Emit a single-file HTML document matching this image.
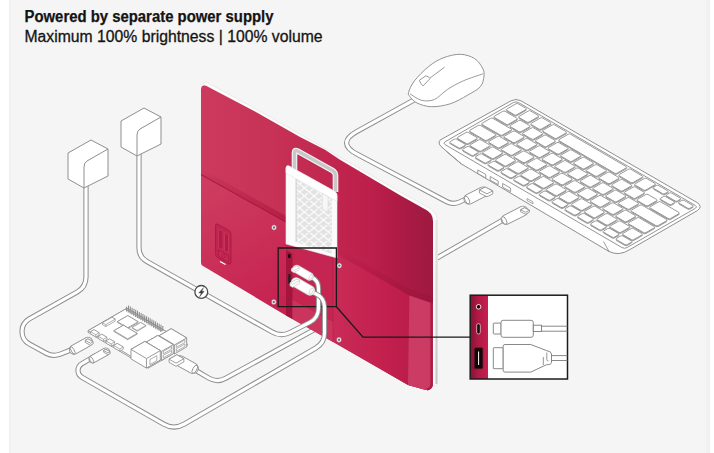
<!DOCTYPE html>
<html><head><meta charset="utf-8">
<style>
html,body{margin:0;padding:0;background:#fff;}
body{width:714px;height:453px;overflow:hidden;position:relative;}
svg{position:absolute;left:0;top:0;}
</style></head>
<body>
<svg width="714" height="453" viewBox="0 0 714 453">
<defs>
<linearGradient id="redg" x1="201" y1="0" x2="433" y2="0" gradientUnits="userSpaceOnUse">
<stop offset="0" stop-color="#cc3a5d"/>
<stop offset="0.276" stop-color="#c73356"/>
<stop offset="0.728" stop-color="#bd1f4b"/>
<stop offset="0.858" stop-color="#ad1b45"/>
<stop offset="1" stop-color="#9e1940"/>
</linearGradient>
<linearGradient id="lhg" x1="201" y1="190" x2="280" y2="310" gradientUnits="userSpaceOnUse"><stop offset="0" stop-color="#cd3d60"/><stop offset="1" stop-color="#c6214f"/></linearGradient>
<linearGradient id="rhg" x1="333" y1="0" x2="433" y2="0" gradientUnits="userSpaceOnUse"><stop offset="0" stop-color="#c92b56"/><stop offset="0.5" stop-color="#c3204e"/><stop offset="1" stop-color="#b31a47"/></linearGradient>
<linearGradient id="shg" x1="0" y1="0" x2="0" y2="1"><stop offset="0" stop-color="#a8123c" stop-opacity="0"/><stop offset="1" stop-color="#a8123c" stop-opacity="0.6"/></linearGradient>
<linearGradient id="shg2" x1="0" y1="0" x2="0" y2="1"><stop offset="0" stop-color="#9a1038" stop-opacity="0"/><stop offset="1" stop-color="#9a1038" stop-opacity="0.45"/></linearGradient>
<linearGradient id="bzg" x1="0" y1="220" x2="0" y2="384" gradientUnits="userSpaceOnUse"><stop offset="0" stop-color="#e6e6e6"/><stop offset="1" stop-color="#c6c6c6"/></linearGradient>
<linearGradient id="insg" x1="0" y1="0" x2="1" y2="0"><stop offset="0" stop-color="#861235"/><stop offset="0.45" stop-color="#b01a45"/><stop offset="1" stop-color="#c81f4e"/></linearGradient>
</defs>
<rect x="0" y="0" width="714" height="453" fill="#ffffff"/>
<rect x="9" y="0" width="701" height="453" fill="#f5f5f5"/>
<rect x="9" y="0" width="1.8" height="453" fill="#efefef"/>
<rect x="705.8" y="0" width="4.3" height="453" fill="#f1f1f1"/>
<text x="24.5" y="21.8" font-family="Liberation Sans" font-weight="bold" font-size="15.8" fill="#141414" stroke="#141414" stroke-width="0.25" textLength="249" lengthAdjust="spacingAndGlyphs">Powered by separate power supply</text>
<text x="24.5" y="41.7" font-family="Liberation Sans" font-size="15.8" fill="#141414" stroke="#141414" stroke-width="0.3" textLength="298" lengthAdjust="spacingAndGlyphs">Maximum 100% brightness | 100% volume</text>
<path d="M414.00,100.00 L357.02,131.41 Q336.00,143.00 357.21,154.24 L446.67,201.65 Q453.00,205.00 459.50,202.00 L466.00,199.00" fill="none" stroke="#8e8e8e" stroke-width="5.20" stroke-linecap="butt"/><path d="M414.00,100.00 L357.02,131.41 Q336.00,143.00 357.21,154.24 L446.67,201.65 Q453.00,205.00 459.50,202.00 L466.00,199.00" fill="none" stroke="#fff" stroke-width="3.20" stroke-linecap="butt"/>
<path d="M430.00,262.00 L503.00,220.00" fill="none" stroke="#8e8e8e" stroke-width="5.20" stroke-linecap="butt"/><path d="M430.00,262.00 L503.00,220.00" fill="none" stroke="#fff" stroke-width="3.20" stroke-linecap="butt"/>
<path d="M196.00,370.50 L208.41,377.89 Q217.00,383.00 225.77,378.19 L330.00,321.00" fill="none" stroke="#8e8e8e" stroke-width="5.20" stroke-linecap="butt"/><path d="M196.00,370.50 L208.41,377.89 Q217.00,383.00 225.77,378.19 L330.00,321.00" fill="none" stroke="#fff" stroke-width="3.20" stroke-linecap="butt"/>
<path d="M202.5,84 Q203,81.5 206.5,82 L255,108.3 L340,157 L400,191.8 L427,206.5 Q437.5,212 437.5,222 L437.5,383 Q437,386 433,387 L426,390 L433,221 L206,88 Z" fill="#fbfbfb" stroke="#e6e6e6" stroke-width="0.8"/>
<path d="M436.4,220 L436.4,384" stroke="url(#bzg)" stroke-width="2"/>
<path d="M201,90 Q201,84.5 206,85.8 L255,111.4 L300,137.1 L325,149.8 L340,159.8 L400,195.3 L425,209.3 Q433,213 433,221 L433,383 Q433,390 426,390 L408,385 L332,341 L289,314 L203,265 Q201,264 201,261 Z" fill="url(#redg)"/>
<path d="M201,175 L286,222.5 L286,315.5 L203,266 Q201,265 201,262 Z" fill="url(#lhg)"/>
<path d="M201,168.5 L286,216 L286,222.5 L201,175 Z" fill="url(#shg)"/>
<path d="M201,174.6 L286,222.1" stroke="#a5133c" stroke-width="1.1" opacity="0.7"/>
<path d="M286,220 L333,247 L333,342 L286,315.5 Z" fill="#c42551"/>
<path d="M286,250 L292.5,253.5 L292.5,319 L286,315.5 Z" fill="#a3153d"/>
<path d="M292.5,300 L333,322 L333,342 L292.5,319 Z" fill="#cd3a60" opacity="0.8"/>
<path d="M333,342 L333,256 Q333,252.5 336.5,254 L409.4,295.5 L433,303.5 L433,383 Q433,390 426,390 L408,385 Z" fill="url(#rhg)"/>
<path d="M336.5,247 L409.4,289 L433,297 L433,303.5 L409.4,295.5 L336.5,254 Z" fill="url(#shg2)"/>
<path d="M333,256 L333,342" stroke="#b01a45" stroke-width="0.8" opacity="0.6"/>
<path d="M409.4,295.5 L433,303.5 L433,383 Q433,390 426,390 L408,385 Z" fill="#cf4167" opacity="0.85"/>
<path d="M431.6,303 L431.6,384 Q431.6,388.5 427,389.5" fill="none" stroke="#a3173f" stroke-width="2.4" opacity="0.8"/>
<path d="M294.5,170 L294.5,152.5 Q294.5,149.5 297.5,151 L332.5,170.5 Q335.5,172.3 335.5,175.5 L335.5,192" fill="none" stroke="#f4f4f4" stroke-width="5.6" stroke-linejoin="round"/>
<path d="M294.5,170 L294.5,152.5 Q294.5,149.5 297.5,151 L332.5,170.5 Q335.5,172.3 335.5,175.5 L335.5,192" fill="none" stroke="#c8c8c8" stroke-width="3.4" stroke-linejoin="round"/>
<clipPath id="vclip"><path d="M296,179 L332,199 L332,254 L296,242 Z"/></clipPath>
<path d="M286,168 Q286,165 289,166 L334,191 Q337,192.5 337,195.5 L337,258 L286,244 Z" fill="#fbfbfb" stroke="#ececec" stroke-width="0.6"/>
<path d="M296,179 L332,199 L332,254 L296,242 Z" fill="#e3e3e3"/>
<path clip-path="url(#vclip)" d="M230,-90.0 L350,10.0 M230,10.0 L350,-90.0 M230,-82.0 L350,18.0 M230,18.0 L350,-82.0 M230,-74.0 L350,26.0 M230,26.0 L350,-74.0 M230,-66.0 L350,34.0 M230,34.0 L350,-66.0 M230,-58.0 L350,42.0 M230,42.0 L350,-58.0 M230,-50.0 L350,50.0 M230,50.0 L350,-50.0 M230,-42.0 L350,58.0 M230,58.0 L350,-42.0 M230,-34.0 L350,66.0 M230,66.0 L350,-34.0 M230,-26.0 L350,74.0 M230,74.0 L350,-26.0 M230,-18.0 L350,82.0 M230,82.0 L350,-18.0 M230,-10.0 L350,90.0 M230,90.0 L350,-10.0 M230,-2.0 L350,98.0 M230,98.0 L350,-2.0 M230,6.0 L350,106.0 M230,106.0 L350,6.0 M230,14.0 L350,114.0 M230,114.0 L350,14.0 M230,22.0 L350,122.0 M230,122.0 L350,22.0 M230,30.0 L350,130.0 M230,130.0 L350,30.0 M230,38.0 L350,138.0 M230,138.0 L350,38.0 M230,46.0 L350,146.0 M230,146.0 L350,46.0 M230,54.0 L350,154.0 M230,154.0 L350,54.0 M230,62.0 L350,162.0 M230,162.0 L350,62.0 M230,70.0 L350,170.0 M230,170.0 L350,70.0 M230,78.0 L350,178.0 M230,178.0 L350,78.0 M230,86.0 L350,186.0 M230,186.0 L350,86.0 M230,94.0 L350,194.0 M230,194.0 L350,94.0 M230,102.0 L350,202.0 M230,202.0 L350,102.0 M230,110.0 L350,210.0 M230,210.0 L350,110.0 M230,118.0 L350,218.0 M230,218.0 L350,118.0 M230,126.0 L350,226.0 M230,226.0 L350,126.0 M230,134.0 L350,234.0 M230,234.0 L350,134.0 M230,142.0 L350,242.0 M230,242.0 L350,142.0 M230,150.0 L350,250.0 M230,250.0 L350,150.0 M230,158.0 L350,258.0 M230,258.0 L350,158.0 M230,166.0 L350,266.0 M230,266.0 L350,166.0 M230,174.0 L350,274.0 M230,274.0 L350,174.0 M230,182.0 L350,282.0 M230,282.0 L350,182.0 M230,190.0 L350,290.0 M230,290.0 L350,190.0 M230,198.0 L350,298.0 M230,298.0 L350,198.0 M230,206.0 L350,306.0 M230,306.0 L350,206.0 M230,214.0 L350,314.0 M230,314.0 L350,214.0 M230,222.0 L350,322.0 M230,322.0 L350,222.0 M230,230.0 L350,330.0 M230,330.0 L350,230.0 M230,238.0 L350,338.0 M230,338.0 L350,238.0 M230,246.0 L350,346.0 M230,346.0 L350,246.0 M230,254.0 L350,354.0 M230,354.0 L350,254.0 M230,262.0 L350,362.0 M230,362.0 L350,262.0 M230,270.0 L350,370.0 M230,370.0 L350,270.0 M230,278.0 L350,378.0 M230,378.0 L350,278.0 M230,286.0 L350,386.0 M230,386.0 L350,286.0 M230,294.0 L350,394.0 M230,394.0 L350,294.0 M230,302.0 L350,402.0 M230,402.0 L350,302.0 M230,310.0 L350,410.0 M230,410.0 L350,310.0 M230,318.0 L350,418.0 M230,418.0 L350,318.0 M230,326.0 L350,426.0 M230,426.0 L350,326.0 M230,334.0 L350,434.0 M230,434.0 L350,334.0 M230,342.0 L350,442.0 M230,442.0 L350,342.0 M230,350.0 L350,450.0 M230,450.0 L350,350.0 M230,358.0 L350,458.0 M230,458.0 L350,358.0 M230,366.0 L350,466.0 M230,466.0 L350,366.0 M230,374.0 L350,474.0 M230,474.0 L350,374.0 M230,382.0 L350,482.0 M230,482.0 L350,382.0" stroke="#fcfcfc" stroke-width="1.1" fill="none"/>
<path d="M286,168 Q286,165 289,166 L334,191 Q337,192.5 337,195.5 L337,201.5 L286,173 Z" fill="#ffffff" stroke="#e2e2e2" stroke-width="0.6"/>
<path d="M296.2,179 L296.2,242" stroke="#d9d9d9" stroke-width="1.6"/>
<path d="M322.3,193.5 L328,196.6 L328,212 L322.3,208.9 Z" fill="#f7f7f7" stroke="#dadada" stroke-width="0.6"/>
<ellipse cx="274.0" cy="227.5" rx="2.5" ry="2.7" fill="#f2f2f2" stroke="#9b2b4a" stroke-width="0.5"/><ellipse cx="274.0" cy="227.5" rx="1.1" ry="1.2" fill="#6d6d6d"/>
<ellipse cx="339.4" cy="265.6" rx="2.5" ry="2.7" fill="#f2f2f2" stroke="#9b2b4a" stroke-width="0.5"/><ellipse cx="339.4" cy="265.6" rx="1.1" ry="1.2" fill="#6d6d6d"/>
<ellipse cx="273.8" cy="302.0" rx="2.5" ry="2.7" fill="#f2f2f2" stroke="#9b2b4a" stroke-width="0.5"/><ellipse cx="273.8" cy="302.0" rx="1.1" ry="1.2" fill="#6d6d6d"/>
<ellipse cx="339.0" cy="339.8" rx="2.5" ry="2.7" fill="#f2f2f2" stroke="#9b2b4a" stroke-width="0.5"/><ellipse cx="339.0" cy="339.8" rx="1.1" ry="1.2" fill="#6d6d6d"/>
<path d="M215.5,225.5 Q215.5,223 218,224.3 L228.5,230 Q231,231.5 231,234 L231,262.5 Q231,265 228.5,263.8 L218,258 Q215.5,256.5 215.5,254 Z" fill="#c1244f" stroke="#a8183f" stroke-width="0.8"/>
<path d="M218.5,229 L223,231.5 L223,250 L218.5,247.5 Z" fill="#b31c46" stroke="#d0466b" stroke-width="0.5"/>
<path d="M224.5,232.5 L228.5,234.7 L228.5,253 L224.5,250.8 Z" fill="#b31c46" stroke="#d0466b" stroke-width="0.5"/>
<path d="M218.5,250 L228.5,255.5 L228.5,262 L218.5,256.5 Z" fill="#c42a53" stroke="#a8183f" stroke-width="0.6"/>
<ellipse cx="223.5" cy="256" rx="1.8" ry="2" fill="none" stroke="#a8183f" stroke-width="0.6"/>
<path d="M220,261.5 l5.5,3" stroke="#fff" stroke-width="1.2"/>
<ellipse cx="289.3" cy="256" rx="1.4" ry="2.2" fill="#111"/>
<rect x="288.2" y="274" width="2.4" height="10" rx="1" fill="#222"/>
<path d="M278.2,248 H336.4 V306.7 H278.2 Z" fill="none" stroke="#1a1a1a" stroke-width="1.3"/>
<path d="M336.4,306.7 L363,337.2 H470" fill="none" stroke="#1a1a1a" stroke-width="1.3"/>
<path d="M306.00,274.00 L312.25,277.50 Q318.50,281.00 318.50,288.16 L318.50,308.00 Q318.50,318.00 309.58,322.52 L289.92,332.48 Q281.00,337.00 272.29,332.09 L146.84,261.42 Q139.00,257.00 139.00,248.00 L139.00,150.00" fill="none" stroke="#8e8e8e" stroke-width="5.20" stroke-linecap="butt"/><path d="M306.00,274.00 L312.25,277.50 Q318.50,281.00 318.50,288.16 L318.50,308.00 Q318.50,318.00 309.58,322.52 L289.92,332.48 Q281.00,337.00 272.29,332.09 L146.84,261.42 Q139.00,257.00 139.00,248.00 L139.00,150.00" fill="none" stroke="#fff" stroke-width="3.20" stroke-linecap="butt"/>
<path d="M308.00,290.00 L316.25,294.00 Q324.50,298.00 324.50,307.17 L324.50,333.00 Q324.50,343.00 315.84,348.00 L184.39,423.99 Q174.00,430.00 163.59,424.03 L81.90,377.24 Q78.00,375.00 78.00,370.50 L78.00,370.50 Q78.00,366.00 81.89,363.73 L96.00,355.50" fill="none" stroke="#8e8e8e" stroke-width="5.20" stroke-linecap="butt"/><path d="M308.00,290.00 L316.25,294.00 Q324.50,298.00 324.50,307.17 L324.50,333.00 Q324.50,343.00 315.84,348.00 L184.39,423.99 Q174.00,430.00 163.59,424.03 L81.90,377.24 Q78.00,375.00 78.00,370.50 L78.00,370.50 Q78.00,366.00 81.89,363.73 L96.00,355.50" fill="none" stroke="#fff" stroke-width="3.20" stroke-linecap="butt"/>
<path d="M296.60,269.00 L309.59,276.50" stroke="#cfcfcf" stroke-width="8.50" stroke-linecap="round"/><path d="M296.60,269.00 L309.59,276.50" stroke="#fff" stroke-width="6.90" stroke-linecap="round"/><ellipse cx="310.67" cy="277.13" rx="1.25" ry="3.25" transform="rotate(30.0 310.67 277.13)" fill="#fff" stroke="#cfcfcf" stroke-width="0.80"/><path d="M291.40,269.00 L296.60,266.00 L299.20,267.50 L299.20,269.60 L294.00,272.60 L291.40,271.10 Z" fill="#fff" stroke="#cfcfcf" stroke-width="0.80" stroke-linejoin="round"/><path d="M291.40,269.00 L294.00,270.50 L299.20,267.50 L296.60,266.00 Z" fill="#fff" stroke="#cfcfcf" stroke-width="0.80" stroke-linejoin="round"/>
<path d="M296.10,282.50 L309.95,290.50" stroke="#cfcfcf" stroke-width="10.50" stroke-linecap="round"/><path d="M296.10,282.50 L309.95,290.50" stroke="#fff" stroke-width="8.90" stroke-linecap="round"/><ellipse cx="311.25" cy="291.25" rx="1.50" ry="3.50" transform="rotate(30.0 311.25 291.25)" fill="#fff" stroke="#cfcfcf" stroke-width="0.80"/><path d="M290.04,283.00 L296.96,279.00 L299.56,280.50 L299.56,283.30 L292.63,287.30 L290.04,285.80 Z" fill="#fff" stroke="#cfcfcf" stroke-width="0.80" stroke-linejoin="round"/><path d="M290.04,283.00 L292.63,284.50 L299.56,280.50 L296.96,279.00 Z" fill="#fff" stroke="#cfcfcf" stroke-width="0.80" stroke-linejoin="round"/>
<path d="M86.00,185.00 L86.00,277.00 Q86.00,287.00 77.28,291.90 L29.41,318.83 Q22.00,323.00 22.00,331.50 L22.00,331.50 Q22.00,340.00 29.45,344.09 L45.99,353.15 Q53.00,357.00 60.44,354.06 L72.00,349.50" fill="none" stroke="#8e8e8e" stroke-width="5.20" stroke-linecap="butt"/><path d="M86.00,185.00 L86.00,277.00 Q86.00,287.00 77.28,291.90 L29.41,318.83 Q22.00,323.00 22.00,331.50 L22.00,331.50 Q22.00,340.00 29.45,344.09 L45.99,353.15 Q53.00,357.00 60.44,354.06 L72.00,349.50" fill="none" stroke="#fff" stroke-width="3.20" stroke-linecap="butt"/>
<path d="M91.0,140.0 L108.0,149.0 L108.0,176.0 L84.0,188.0 L68.0,179.0 L68.0,153.0 Z" fill="#fff" stroke="#8e8e8e" stroke-width="1" stroke-linejoin="round"/><path d="M108.0,149.0 L87.0,161.0 Q84.0,163.0 84.0,167.0 L84.0,188.0" fill="none" stroke="#8e8e8e" stroke-width="1"/>
<path d="M144.0,108.0 L161.0,117.0 L161.0,144.0 L137.0,156.0 L121.0,147.0 L121.0,121.0 Z" fill="#fff" stroke="#8e8e8e" stroke-width="1" stroke-linejoin="round"/><path d="M161.0,117.0 L140.0,129.0 Q137.0,131.0 137.0,135.0 L137.0,156.0" fill="none" stroke="#8e8e8e" stroke-width="1"/>
<circle cx="201.3" cy="291.9" r="6.4" fill="#fff" stroke="#4a4a4a" stroke-width="1.3"/><path d="M203.6,287.6 L198.8,292.9 L201.3,292.9 L199.6,296.8 L204.2,291.2 L201.7,291.2 Z" fill="#3a3a3a" stroke="#3a3a3a" stroke-width="0.4" stroke-linejoin="round"/>
<path d="M88.00,330.70 L126.96,308.25 L187.13,344.05 L187.13,345.65 L148.17,368.11 L88.00,332.30 Z" fill="#fff" stroke="#8e8e8e" stroke-width="0.90" stroke-linejoin="round"/><path d="M88.00,330.70 L148.17,366.50 L187.13,344.05 L126.96,308.25 Z" fill="#fff" stroke="#8e8e8e" stroke-width="0.90" stroke-linejoin="round"/><path d="M148.17,368.11 L148.17,366.50" stroke="#8e8e8e" stroke-width="0.90"/>
<path d="M117.39,321.61 L127.78,315.62 L138.10,321.76 L138.10,322.56 L127.71,328.55 L117.39,322.41 Z" fill="#fff" stroke="#8e8e8e" stroke-width="0.80" stroke-linejoin="round"/><path d="M117.39,321.61 L127.71,327.75 L138.10,321.76 L127.78,315.62 Z" fill="#fff" stroke="#8e8e8e" stroke-width="0.80" stroke-linejoin="round"/><path d="M127.71,328.55 L127.71,327.75" stroke="#8e8e8e" stroke-width="0.80"/>
<path d="M113.89,330.68 L123.41,325.19 L137.16,333.37 L137.16,334.17 L127.64,339.66 L113.89,331.48 Z" fill="#fff" stroke="#8e8e8e" stroke-width="0.80" stroke-linejoin="round"/><path d="M113.89,330.68 L127.64,338.86 L137.16,333.37 L123.41,325.19 Z" fill="#fff" stroke="#8e8e8e" stroke-width="0.80" stroke-linejoin="round"/><path d="M127.64,339.66 L127.64,338.86" stroke="#8e8e8e" stroke-width="0.80"/>
<path d="M132.03,327.47 L140.68,322.49 L145.84,325.55 L145.84,326.15 L137.18,331.14 L132.03,328.07 Z" fill="#fff" stroke="#8e8e8e" stroke-width="0.70" stroke-linejoin="round"/><path d="M132.03,327.47 L137.18,330.54 L145.84,325.55 L140.68,322.49 Z" fill="#fff" stroke="#8e8e8e" stroke-width="0.70" stroke-linejoin="round"/><path d="M137.18,331.14 L137.18,330.54" stroke="#8e8e8e" stroke-width="0.70"/>
<path d="M102.54,322.73 L112.06,317.24 L115.24,319.13 L115.24,321.13 L105.72,326.62 L102.54,324.73 Z" fill="#fff" stroke="#8e8e8e" stroke-width="0.70" stroke-linejoin="round"/><path d="M102.54,322.73 L105.72,324.62 L115.24,319.13 L112.06,317.24 Z" fill="#fff" stroke="#8e8e8e" stroke-width="0.70" stroke-linejoin="round"/><path d="M105.72,326.62 L105.72,324.62" stroke="#8e8e8e" stroke-width="0.70"/>
<path d="M90.58,331.63 L94.04,329.64 L99.20,332.71 L99.20,334.91 L95.74,336.90 L90.58,333.83 Z" fill="#fff" stroke="#8e8e8e" stroke-width="0.70" stroke-linejoin="round"/><path d="M90.58,331.63 L95.74,334.70 L99.20,332.71 L94.04,329.64 Z" fill="#fff" stroke="#8e8e8e" stroke-width="0.70" stroke-linejoin="round"/><path d="M95.74,336.90 L95.74,334.70" stroke="#8e8e8e" stroke-width="0.70"/>
<path d="M98.32,336.24 L101.78,334.24 L106.94,337.31 L106.94,339.51 L103.47,341.51 L98.32,338.44 Z" fill="#fff" stroke="#8e8e8e" stroke-width="0.70" stroke-linejoin="round"/><path d="M98.32,336.24 L103.47,339.31 L106.94,337.31 L101.78,334.24 Z" fill="#fff" stroke="#8e8e8e" stroke-width="0.70" stroke-linejoin="round"/><path d="M103.47,341.51 L103.47,339.31" stroke="#8e8e8e" stroke-width="0.70"/>
<path d="M106.05,340.84 L109.51,338.85 L114.67,341.91 L114.67,344.11 L111.21,346.11 L106.05,343.04 Z" fill="#fff" stroke="#8e8e8e" stroke-width="0.70" stroke-linejoin="round"/><path d="M106.05,340.84 L111.21,343.91 L114.67,341.91 L109.51,338.85 Z" fill="#fff" stroke="#8e8e8e" stroke-width="0.70" stroke-linejoin="round"/><path d="M111.21,346.11 L111.21,343.91" stroke="#8e8e8e" stroke-width="0.70"/>
<path d="M113.79,345.44 L117.25,343.45 L123.27,347.03 L123.27,349.23 L119.81,351.23 L113.79,347.64 Z" fill="#fff" stroke="#8e8e8e" stroke-width="0.70" stroke-linejoin="round"/><path d="M113.79,345.44 L119.81,349.03 L123.27,347.03 L117.25,343.45 Z" fill="#fff" stroke="#8e8e8e" stroke-width="0.70" stroke-linejoin="round"/><path d="M119.81,351.23 L119.81,349.03" stroke="#8e8e8e" stroke-width="0.70"/>
<path d="M126.51,311.53 L126.51,306.63 M128.50,310.38 L128.50,305.48 M128.31,312.60 L128.31,307.70 M130.31,311.46 L130.31,306.56 M130.12,313.68 L130.12,308.78 M132.11,312.53 L132.11,307.63 M131.92,314.75 L131.92,309.85 M133.92,313.61 L133.92,308.71 M133.73,315.83 L133.73,310.93 M135.72,314.68 L135.72,309.78 M135.54,316.90 L135.54,312.00 M137.53,315.75 L137.53,310.85 M137.34,317.98 L137.34,313.08 M139.33,316.83 L139.33,311.93 M139.15,319.05 L139.15,314.15 M141.14,317.90 L141.14,313.00 M140.95,320.12 L140.95,315.22 M142.94,318.98 L142.94,314.08 M142.76,321.20 L142.76,316.30 M144.75,320.05 L144.75,315.15 M144.56,322.27 L144.56,317.37 M146.55,321.12 L146.55,316.22 M146.37,323.35 L146.37,318.45 M148.36,322.20 L148.36,317.30 M148.17,324.42 L148.17,319.52 M150.16,323.27 L150.16,318.37 M149.98,325.49 L149.98,320.59 M151.97,324.35 L151.97,319.45 M151.78,326.57 L151.78,321.67 M153.77,325.42 L153.77,320.52 M153.59,327.64 L153.59,322.74 M155.58,326.49 L155.58,321.59 M155.39,328.72 L155.39,323.82 M157.38,327.57 L157.38,322.67 M157.20,329.79 L157.20,324.89 M159.19,328.64 L159.19,323.74 M159.00,330.86 L159.00,325.96 M160.99,329.72 L160.99,324.82 M160.81,331.94 L160.81,327.04 M162.80,330.79 L162.80,325.89" stroke="#8c8c8c" stroke-width="1.05"/>
<path d="M125.66,309.11 L162.62,331.10" stroke="#9a9a9a" stroke-width="1.2"/>
<path d="M159.10,335.69 L171.22,328.71 L186.69,337.91 L186.69,346.91 L174.57,353.90 L159.10,344.69 Z" fill="#fff" stroke="#8e8e8e" stroke-width="0.90" stroke-linejoin="round"/><path d="M159.10,335.69 L174.57,344.90 L186.69,337.91 L171.22,328.71 Z" fill="#fff" stroke="#8e8e8e" stroke-width="0.90" stroke-linejoin="round"/><path d="M174.57,353.90 L174.57,344.90" stroke="#8e8e8e" stroke-width="0.90"/>
<path d="M176.30,351.40 L184.96,346.41 L184.96,343.91 L176.30,348.90 Z M176.30,347.40 L184.96,342.41 L184.96,339.91 L176.30,344.90 Z" fill="#fff" stroke="#8e8e8e" stroke-width="0.7"/>
<path d="M146.12,342.17 L157.81,335.43 L173.28,344.64 L173.28,353.64 L161.59,360.37 L146.12,351.17 Z" fill="#fff" stroke="#8e8e8e" stroke-width="0.90" stroke-linejoin="round"/><path d="M146.12,342.17 L161.59,351.37 L173.28,344.64 L157.81,335.43 Z" fill="#fff" stroke="#8e8e8e" stroke-width="0.90" stroke-linejoin="round"/><path d="M161.59,360.37 L161.59,351.37" stroke="#8e8e8e" stroke-width="0.90"/>
<path d="M163.32,357.87 L171.55,353.13 L171.55,350.63 L163.32,355.37 Z M163.32,353.87 L171.55,349.13 L171.55,346.63 L163.32,351.37 Z" fill="#fff" stroke="#8e8e8e" stroke-width="0.7"/>
<path d="M130.97,349.39 L144.83,341.40 L160.30,350.61 L160.30,360.11 L146.45,368.09 L130.97,358.89 Z" fill="#fff" stroke="#8e8e8e" stroke-width="0.90" stroke-linejoin="round"/><path d="M130.97,349.39 L146.45,358.59 L160.30,350.61 L144.83,341.40 Z" fill="#fff" stroke="#8e8e8e" stroke-width="0.90" stroke-linejoin="round"/><path d="M146.45,368.09 L146.45,358.59" stroke="#8e8e8e" stroke-width="0.90"/>
<path d="M149.91,364.60 L156.84,360.61 L156.84,355.61 L149.91,359.60 Z" fill="#fff" stroke="#8e8e8e" stroke-width="0.7"/>
<path d="M87.89,341.77 L73.95,349.62" stroke="#8e8e8e" stroke-width="10.00" stroke-linecap="round"/><path d="M87.89,341.77 L73.95,349.62" stroke="#fff" stroke-width="8.30" stroke-linecap="round"/><ellipse cx="72.64" cy="350.36" rx="1.50" ry="4.25" transform="rotate(150.6 72.64 350.36)" fill="#fff" stroke="#8e8e8e" stroke-width="0.85"/><path d="M85.27,340.30 L87.89,338.83 L93.11,341.77 L93.11,343.87 L90.50,345.34 L85.27,342.40 Z" fill="#fff" stroke="#8e8e8e" stroke-width="0.85" stroke-linejoin="round"/><path d="M93.11,341.77 L90.50,343.24 L85.27,340.30 L87.89,338.83 Z" fill="#fff" stroke="#8e8e8e" stroke-width="0.85" stroke-linejoin="round"/>
<path d="M105.82,351.73 L92.75,359.09" stroke="#8e8e8e" stroke-width="8.50" stroke-linecap="round"/><path d="M105.82,351.73 L92.75,359.09" stroke="#fff" stroke-width="6.80" stroke-linecap="round"/><ellipse cx="91.45" cy="359.82" rx="1.50" ry="3.75" transform="rotate(150.6 91.45 359.82)" fill="#fff" stroke="#8e8e8e" stroke-width="0.85"/><path d="M103.64,350.50 L105.82,349.27 L110.18,351.73 L110.18,353.48 L108.00,354.70 L103.64,352.25 Z" fill="#fff" stroke="#8e8e8e" stroke-width="0.85" stroke-linejoin="round"/><path d="M110.18,351.73 L108.00,352.95 L103.64,350.50 L105.82,349.27 Z" fill="#fff" stroke="#8e8e8e" stroke-width="0.85" stroke-linejoin="round"/>
<path d="M179.97,360.93 L193.04,368.29" stroke="#8e8e8e" stroke-width="11.50" stroke-linecap="round"/><path d="M179.97,360.93 L193.04,368.29" stroke="#fff" stroke-width="9.80" stroke-linecap="round"/><ellipse cx="194.78" cy="369.27" rx="2.00" ry="4.50" transform="rotate(29.4 194.78 369.27)" fill="#fff" stroke="#8e8e8e" stroke-width="0.85"/><path d="M169.08,359.21 L176.92,354.79 L183.89,358.72 L183.89,361.87 L176.05,366.28 L169.08,362.36 Z" fill="#fff" stroke="#8e8e8e" stroke-width="0.85" stroke-linejoin="round"/><path d="M169.08,359.21 L176.05,363.13 L183.89,358.72 L176.92,354.79 Z" fill="#fff" stroke="#8e8e8e" stroke-width="0.85" stroke-linejoin="round"/>
<path d="M483.19,191.91 L468.88,199.06" stroke="#8e8e8e" stroke-width="11.00" stroke-linecap="round"/><path d="M483.19,191.91 L468.88,199.06" stroke="#fff" stroke-width="9.30" stroke-linecap="round"/><ellipse cx="467.09" cy="199.96" rx="2.00" ry="4.25" transform="rotate(153.4 467.09 199.96)" fill="#fff" stroke="#8e8e8e" stroke-width="0.85"/><path d="M479.38,190.01 L485.20,187.10 L492.80,190.90 L492.80,193.88 L486.99,196.78 L479.38,192.98 Z" fill="#fff" stroke="#8e8e8e" stroke-width="0.85" stroke-linejoin="round"/><path d="M492.80,190.90 L486.99,193.81 L479.38,190.01 L485.20,187.10 Z" fill="#fff" stroke="#8e8e8e" stroke-width="0.85" stroke-linejoin="round"/>
<path d="M522.98,211.03 L506.03,219.60" stroke="#8e8e8e" stroke-width="10.50" stroke-linecap="round"/><path d="M522.98,211.03 L506.03,219.60" stroke="#fff" stroke-width="8.80" stroke-linecap="round"/><ellipse cx="504.24" cy="220.51" rx="2.00" ry="4.25" transform="rotate(153.2 504.24 220.51)" fill="#fff" stroke="#8e8e8e" stroke-width="0.85"/><path d="M520.53,209.79 L524.55,207.76 L529.45,210.24 L529.45,212.17 L525.44,214.20 L520.53,211.71 Z" fill="#fff" stroke="#8e8e8e" stroke-width="0.85" stroke-linejoin="round"/><path d="M529.45,210.24 L525.44,212.27 L520.53,209.79 L524.55,207.76 Z" fill="#fff" stroke="#8e8e8e" stroke-width="0.85" stroke-linejoin="round"/>
<rect x="470.2" y="295.2" width="97.3" height="83.8" fill="#ffffff"/>
<rect x="470.2" y="295.2" width="17.8" height="83.8" fill="url(#insg)"/>
<rect x="470.2" y="295.2" width="97.3" height="83.8" fill="none" stroke="#1b1b1b" stroke-width="1.5"/>
<circle cx="478.6" cy="306.8" r="2.3" fill="#1a0a10" stroke="#f2e6ea" stroke-width="1"/><circle cx="478.6" cy="306.8" r="0.8" fill="#1a0a10"/>
<rect x="476.7" y="323.6" width="3.6" height="10.4" rx="1.8" fill="#1a0a10" stroke="#e9c9d2" stroke-width="0.8"/>
<rect x="474.4" y="347.7" width="8.4" height="21" rx="1.2" fill="#120608" stroke="#5a1a2c" stroke-width="0.6"/>
<path d="M478.6,351.5 V365" stroke="#ffffff" stroke-width="1"/>
<g fill="#fff" stroke="#7a7a7a" stroke-width="0.9">
<rect x="493.3" y="323.1" width="7.8" height="10.9" rx="0.6"/>
<rect x="501" y="320.3" width="32.3" height="17" rx="2.2"/>
<rect x="533.3" y="325.2" width="8.2" height="6.3"/>
<path d="M541.5,326.2 H567.5 M541.5,331.2 H567.5" fill="none"/>
<rect x="493.3" y="347.7" width="9.9" height="21" rx="0.6"/>
<path d="M503.2,346.3 Q503.2,344.5 505,344.5 L530.8,344.5 L546.5,350.6 Q551.5,351.5 551.5,354 L551.5,362.5 Q551.5,364.7 546.5,364.7 L530.8,372.1 L505,372.1 Q503.2,372.1 503.2,370.3 Z"/>
<path d="M551.5,355.6 H567.5 M551.5,360.5 H567.5" fill="none"/>
<path d="M546.8,352.5 V359.5 Q546.8,361 548.5,361 M543.3,357 V365" fill="none" stroke-width="0.8"/>
</g>
<path d="M439.2,141.8 Q439.5,140 442,139 L511,100.8 Q516,98.2 521,100.8 L697,202.5 Q703,206.5 697.5,210.5 L630,249.5 Q619,256.5 609,251.5 L461.5,164 L441,146.5 Q438.5,144 439.2,141.8 Z" fill="#fff" stroke="#8e8e8e" stroke-width="1" stroke-linejoin="round"/>
<g transform="matrix(0.86450 0.50300 0.86700 -0.49800 439.500 143.200)"><rect x="1.8" y="1.8" width="210.4" height="84.6" rx="3" ry="3" fill="#fff" stroke="#8e8e8e" stroke-width="0.95" vector-effect="non-scaling-stroke"/></g>
<path d="M446.5,151.5 L461.5,164" fill="none" stroke="#8e8e8e" stroke-width="0.9"/>
<path d="M603.5,241.5 Q606,246 609,251.5" fill="none" stroke="#8e8e8e" stroke-width="0.9"/>
<path d="M477.8,169.9 l8,4.6 l0,3.6 l-8,-4.6 Z" fill="#fff" stroke="#8e8e8e" stroke-width="0.9"/>
<path d="M490.2,176.5 l8,4.6 l0,3.6 l-8,-4.6 Z" fill="#fff" stroke="#8e8e8e" stroke-width="0.9"/>
<path d="M502.6,183.5 l8,4.6 l0,3.6 l-8,-4.6 Z" fill="#fff" stroke="#8e8e8e" stroke-width="0.9"/>
<path d="M527.0,198.5 l6,3.4 l0,2 l-6,-3.4 Z" fill="#fff" stroke="#8e8e8e" stroke-width="0.8"/>
<g transform="translate(0,0.9)"><g transform="matrix(0.86450 0.50300 0.86700 -0.49800 439.500 143.200)" fill="#bdbdbd" stroke="#8e8e8e" stroke-width="0.8"><rect x="4.50" y="6.50" width="12.40" height="7.40" rx="1.4" ry="1.4" vector-effect="non-scaling-stroke"/><rect x="19.30" y="6.50" width="12.40" height="7.40" rx="1.4" ry="1.4" vector-effect="non-scaling-stroke"/><rect x="34.10" y="6.50" width="12.40" height="7.40" rx="1.4" ry="1.4" vector-effect="non-scaling-stroke"/><rect x="48.90" y="6.50" width="12.40" height="7.40" rx="1.4" ry="1.4" vector-effect="non-scaling-stroke"/><rect x="63.70" y="6.50" width="12.40" height="7.40" rx="1.4" ry="1.4" vector-effect="non-scaling-stroke"/><rect x="78.50" y="6.50" width="12.40" height="7.40" rx="1.4" ry="1.4" vector-effect="non-scaling-stroke"/><rect x="93.30" y="6.50" width="12.40" height="7.40" rx="1.4" ry="1.4" vector-effect="non-scaling-stroke"/><rect x="108.10" y="6.50" width="12.40" height="7.40" rx="1.4" ry="1.4" vector-effect="non-scaling-stroke"/><rect x="122.90" y="6.50" width="12.40" height="7.40" rx="1.4" ry="1.4" vector-effect="non-scaling-stroke"/><rect x="137.70" y="6.50" width="12.40" height="7.40" rx="1.4" ry="1.4" vector-effect="non-scaling-stroke"/><rect x="152.50" y="6.50" width="12.40" height="7.40" rx="1.4" ry="1.4" vector-effect="non-scaling-stroke"/><rect x="167.30" y="6.50" width="12.40" height="7.40" rx="1.4" ry="1.4" vector-effect="non-scaling-stroke"/><rect x="182.10" y="6.50" width="12.40" height="7.40" rx="1.4" ry="1.4" vector-effect="non-scaling-stroke"/><rect x="196.90" y="6.50" width="12.40" height="7.40" rx="1.4" ry="1.4" vector-effect="non-scaling-stroke"/><rect x="4.50" y="15.20" width="12.50" height="12.20" rx="1.4" ry="1.4" vector-effect="non-scaling-stroke"/><rect x="19.20" y="15.20" width="12.50" height="12.20" rx="1.4" ry="1.4" vector-effect="non-scaling-stroke"/><rect x="33.90" y="15.20" width="12.50" height="12.20" rx="1.4" ry="1.4" vector-effect="non-scaling-stroke"/><rect x="48.60" y="15.20" width="12.50" height="12.20" rx="1.4" ry="1.4" vector-effect="non-scaling-stroke"/><rect x="63.30" y="15.20" width="12.50" height="12.20" rx="1.4" ry="1.4" vector-effect="non-scaling-stroke"/><rect x="78.00" y="15.20" width="12.50" height="12.20" rx="1.4" ry="1.4" vector-effect="non-scaling-stroke"/><rect x="92.70" y="15.20" width="12.50" height="12.20" rx="1.4" ry="1.4" vector-effect="non-scaling-stroke"/><rect x="107.40" y="15.20" width="12.50" height="12.20" rx="1.4" ry="1.4" vector-effect="non-scaling-stroke"/><rect x="122.10" y="15.20" width="12.50" height="12.20" rx="1.4" ry="1.4" vector-effect="non-scaling-stroke"/><rect x="136.80" y="15.20" width="12.50" height="12.20" rx="1.4" ry="1.4" vector-effect="non-scaling-stroke"/><rect x="151.50" y="15.20" width="12.50" height="12.20" rx="1.4" ry="1.4" vector-effect="non-scaling-stroke"/><rect x="166.20" y="15.20" width="12.50" height="12.20" rx="1.4" ry="1.4" vector-effect="non-scaling-stroke"/><rect x="180.90" y="15.20" width="12.50" height="12.20" rx="1.4" ry="1.4" vector-effect="non-scaling-stroke"/><rect x="195.60" y="15.20" width="12.50" height="12.20" rx="1.4" ry="1.4" vector-effect="non-scaling-stroke"/><rect x="4.50" y="29.30" width="19.85" height="12.20" rx="1.4" ry="1.4" vector-effect="non-scaling-stroke"/><rect x="26.55" y="29.30" width="12.50" height="12.20" rx="1.4" ry="1.4" vector-effect="non-scaling-stroke"/><rect x="41.25" y="29.30" width="12.50" height="12.20" rx="1.4" ry="1.4" vector-effect="non-scaling-stroke"/><rect x="55.95" y="29.30" width="12.50" height="12.20" rx="1.4" ry="1.4" vector-effect="non-scaling-stroke"/><rect x="70.65" y="29.30" width="12.50" height="12.20" rx="1.4" ry="1.4" vector-effect="non-scaling-stroke"/><rect x="85.35" y="29.30" width="12.50" height="12.20" rx="1.4" ry="1.4" vector-effect="non-scaling-stroke"/><rect x="100.05" y="29.30" width="12.50" height="12.20" rx="1.4" ry="1.4" vector-effect="non-scaling-stroke"/><rect x="114.75" y="29.30" width="12.50" height="12.20" rx="1.4" ry="1.4" vector-effect="non-scaling-stroke"/><rect x="129.45" y="29.30" width="12.50" height="12.20" rx="1.4" ry="1.4" vector-effect="non-scaling-stroke"/><rect x="144.15" y="29.30" width="12.50" height="12.20" rx="1.4" ry="1.4" vector-effect="non-scaling-stroke"/><rect x="158.85" y="29.30" width="12.50" height="12.20" rx="1.4" ry="1.4" vector-effect="non-scaling-stroke"/><rect x="173.55" y="29.30" width="12.50" height="12.20" rx="1.4" ry="1.4" vector-effect="non-scaling-stroke"/><rect x="188.25" y="29.30" width="19.85" height="12.20" rx="1.4" ry="1.4" vector-effect="non-scaling-stroke"/><rect x="4.50" y="43.40" width="23.52" height="12.40" rx="1.4" ry="1.4" vector-effect="non-scaling-stroke"/><rect x="30.22" y="43.40" width="12.50" height="12.40" rx="1.4" ry="1.4" vector-effect="non-scaling-stroke"/><rect x="44.92" y="43.40" width="12.50" height="12.40" rx="1.4" ry="1.4" vector-effect="non-scaling-stroke"/><rect x="59.62" y="43.40" width="12.50" height="12.40" rx="1.4" ry="1.4" vector-effect="non-scaling-stroke"/><rect x="74.33" y="43.40" width="12.50" height="12.40" rx="1.4" ry="1.4" vector-effect="non-scaling-stroke"/><rect x="89.03" y="43.40" width="12.50" height="12.40" rx="1.4" ry="1.4" vector-effect="non-scaling-stroke"/><rect x="103.73" y="43.40" width="12.50" height="12.40" rx="1.4" ry="1.4" vector-effect="non-scaling-stroke"/><rect x="118.43" y="43.40" width="12.50" height="12.40" rx="1.4" ry="1.4" vector-effect="non-scaling-stroke"/><rect x="133.12" y="43.40" width="12.50" height="12.40" rx="1.4" ry="1.4" vector-effect="non-scaling-stroke"/><rect x="147.82" y="43.40" width="12.50" height="12.40" rx="1.4" ry="1.4" vector-effect="non-scaling-stroke"/><rect x="162.52" y="43.40" width="12.50" height="12.40" rx="1.4" ry="1.4" vector-effect="non-scaling-stroke"/><rect x="177.22" y="43.40" width="30.88" height="12.40" rx="1.4" ry="1.4" vector-effect="non-scaling-stroke"/><rect x="4.50" y="57.60" width="16.18" height="12.30" rx="1.4" ry="1.4" vector-effect="non-scaling-stroke"/><rect x="22.88" y="57.60" width="12.50" height="12.30" rx="1.4" ry="1.4" vector-effect="non-scaling-stroke"/><rect x="37.58" y="57.60" width="12.50" height="12.30" rx="1.4" ry="1.4" vector-effect="non-scaling-stroke"/><rect x="52.28" y="57.60" width="12.50" height="12.30" rx="1.4" ry="1.4" vector-effect="non-scaling-stroke"/><rect x="66.98" y="57.60" width="12.50" height="12.30" rx="1.4" ry="1.4" vector-effect="non-scaling-stroke"/><rect x="81.68" y="57.60" width="12.50" height="12.30" rx="1.4" ry="1.4" vector-effect="non-scaling-stroke"/><rect x="96.38" y="57.60" width="12.50" height="12.30" rx="1.4" ry="1.4" vector-effect="non-scaling-stroke"/><rect x="111.08" y="57.60" width="12.50" height="12.30" rx="1.4" ry="1.4" vector-effect="non-scaling-stroke"/><rect x="125.78" y="57.60" width="12.50" height="12.30" rx="1.4" ry="1.4" vector-effect="non-scaling-stroke"/><rect x="140.48" y="57.60" width="12.50" height="12.30" rx="1.4" ry="1.4" vector-effect="non-scaling-stroke"/><rect x="155.18" y="57.60" width="12.50" height="12.30" rx="1.4" ry="1.4" vector-effect="non-scaling-stroke"/><rect x="169.88" y="57.60" width="12.50" height="12.30" rx="1.4" ry="1.4" vector-effect="non-scaling-stroke"/><rect x="184.57" y="57.60" width="23.53" height="12.30" rx="1.4" ry="1.4" vector-effect="non-scaling-stroke"/><rect x="4.50" y="71.80" width="11.50" height="13.20" rx="1.4" ry="1.4" vector-effect="non-scaling-stroke"/><rect x="18.80" y="71.80" width="11.50" height="13.20" rx="1.4" ry="1.4" vector-effect="non-scaling-stroke"/><rect x="32.80" y="71.80" width="11.60" height="13.20" rx="1.4" ry="1.4" vector-effect="non-scaling-stroke"/><rect x="46.50" y="71.80" width="16.00" height="13.20" rx="1.4" ry="1.4" vector-effect="non-scaling-stroke"/><rect x="65.00" y="71.80" width="67.00" height="13.20" rx="1.4" ry="1.4" vector-effect="non-scaling-stroke"/><rect x="134.60" y="71.80" width="16.00" height="13.20" rx="1.4" ry="1.4" vector-effect="non-scaling-stroke"/><rect x="153.00" y="71.80" width="12.40" height="13.20" rx="1.4" ry="1.4" vector-effect="non-scaling-stroke"/><rect x="167.00" y="79.20" width="13.00" height="5.80" rx="1.4" ry="1.4" vector-effect="non-scaling-stroke"/><rect x="182.00" y="79.20" width="12.50" height="5.80" rx="1.4" ry="1.4" vector-effect="non-scaling-stroke"/><rect x="196.50" y="79.20" width="12.50" height="5.80" rx="1.4" ry="1.4" vector-effect="non-scaling-stroke"/><rect x="182.00" y="72.30" width="12.50" height="5.70" rx="1.4" ry="1.4" vector-effect="non-scaling-stroke"/></g></g>
<g transform="matrix(0.86450 0.50300 0.86700 -0.49800 439.500 143.200)" fill="#fff" stroke="#8e8e8e" stroke-width="0.9"><rect x="4.50" y="6.50" width="12.40" height="7.40" rx="1.4" ry="1.4" vector-effect="non-scaling-stroke"/><rect x="19.30" y="6.50" width="12.40" height="7.40" rx="1.4" ry="1.4" vector-effect="non-scaling-stroke"/><rect x="34.10" y="6.50" width="12.40" height="7.40" rx="1.4" ry="1.4" vector-effect="non-scaling-stroke"/><rect x="48.90" y="6.50" width="12.40" height="7.40" rx="1.4" ry="1.4" vector-effect="non-scaling-stroke"/><rect x="63.70" y="6.50" width="12.40" height="7.40" rx="1.4" ry="1.4" vector-effect="non-scaling-stroke"/><rect x="78.50" y="6.50" width="12.40" height="7.40" rx="1.4" ry="1.4" vector-effect="non-scaling-stroke"/><rect x="93.30" y="6.50" width="12.40" height="7.40" rx="1.4" ry="1.4" vector-effect="non-scaling-stroke"/><rect x="108.10" y="6.50" width="12.40" height="7.40" rx="1.4" ry="1.4" vector-effect="non-scaling-stroke"/><rect x="122.90" y="6.50" width="12.40" height="7.40" rx="1.4" ry="1.4" vector-effect="non-scaling-stroke"/><rect x="137.70" y="6.50" width="12.40" height="7.40" rx="1.4" ry="1.4" vector-effect="non-scaling-stroke"/><rect x="152.50" y="6.50" width="12.40" height="7.40" rx="1.4" ry="1.4" vector-effect="non-scaling-stroke"/><rect x="167.30" y="6.50" width="12.40" height="7.40" rx="1.4" ry="1.4" vector-effect="non-scaling-stroke"/><rect x="182.10" y="6.50" width="12.40" height="7.40" rx="1.4" ry="1.4" vector-effect="non-scaling-stroke"/><rect x="196.90" y="6.50" width="12.40" height="7.40" rx="1.4" ry="1.4" vector-effect="non-scaling-stroke"/><rect x="4.50" y="15.20" width="12.50" height="12.20" rx="1.4" ry="1.4" vector-effect="non-scaling-stroke"/><rect x="19.20" y="15.20" width="12.50" height="12.20" rx="1.4" ry="1.4" vector-effect="non-scaling-stroke"/><rect x="33.90" y="15.20" width="12.50" height="12.20" rx="1.4" ry="1.4" vector-effect="non-scaling-stroke"/><rect x="48.60" y="15.20" width="12.50" height="12.20" rx="1.4" ry="1.4" vector-effect="non-scaling-stroke"/><rect x="63.30" y="15.20" width="12.50" height="12.20" rx="1.4" ry="1.4" vector-effect="non-scaling-stroke"/><rect x="78.00" y="15.20" width="12.50" height="12.20" rx="1.4" ry="1.4" vector-effect="non-scaling-stroke"/><rect x="92.70" y="15.20" width="12.50" height="12.20" rx="1.4" ry="1.4" vector-effect="non-scaling-stroke"/><rect x="107.40" y="15.20" width="12.50" height="12.20" rx="1.4" ry="1.4" vector-effect="non-scaling-stroke"/><rect x="122.10" y="15.20" width="12.50" height="12.20" rx="1.4" ry="1.4" vector-effect="non-scaling-stroke"/><rect x="136.80" y="15.20" width="12.50" height="12.20" rx="1.4" ry="1.4" vector-effect="non-scaling-stroke"/><rect x="151.50" y="15.20" width="12.50" height="12.20" rx="1.4" ry="1.4" vector-effect="non-scaling-stroke"/><rect x="166.20" y="15.20" width="12.50" height="12.20" rx="1.4" ry="1.4" vector-effect="non-scaling-stroke"/><rect x="180.90" y="15.20" width="12.50" height="12.20" rx="1.4" ry="1.4" vector-effect="non-scaling-stroke"/><rect x="195.60" y="15.20" width="12.50" height="12.20" rx="1.4" ry="1.4" vector-effect="non-scaling-stroke"/><rect x="4.50" y="29.30" width="19.85" height="12.20" rx="1.4" ry="1.4" vector-effect="non-scaling-stroke"/><rect x="26.55" y="29.30" width="12.50" height="12.20" rx="1.4" ry="1.4" vector-effect="non-scaling-stroke"/><rect x="41.25" y="29.30" width="12.50" height="12.20" rx="1.4" ry="1.4" vector-effect="non-scaling-stroke"/><rect x="55.95" y="29.30" width="12.50" height="12.20" rx="1.4" ry="1.4" vector-effect="non-scaling-stroke"/><rect x="70.65" y="29.30" width="12.50" height="12.20" rx="1.4" ry="1.4" vector-effect="non-scaling-stroke"/><rect x="85.35" y="29.30" width="12.50" height="12.20" rx="1.4" ry="1.4" vector-effect="non-scaling-stroke"/><rect x="100.05" y="29.30" width="12.50" height="12.20" rx="1.4" ry="1.4" vector-effect="non-scaling-stroke"/><rect x="114.75" y="29.30" width="12.50" height="12.20" rx="1.4" ry="1.4" vector-effect="non-scaling-stroke"/><rect x="129.45" y="29.30" width="12.50" height="12.20" rx="1.4" ry="1.4" vector-effect="non-scaling-stroke"/><rect x="144.15" y="29.30" width="12.50" height="12.20" rx="1.4" ry="1.4" vector-effect="non-scaling-stroke"/><rect x="158.85" y="29.30" width="12.50" height="12.20" rx="1.4" ry="1.4" vector-effect="non-scaling-stroke"/><rect x="173.55" y="29.30" width="12.50" height="12.20" rx="1.4" ry="1.4" vector-effect="non-scaling-stroke"/><rect x="188.25" y="29.30" width="19.85" height="12.20" rx="1.4" ry="1.4" vector-effect="non-scaling-stroke"/><rect x="4.50" y="43.40" width="23.52" height="12.40" rx="1.4" ry="1.4" vector-effect="non-scaling-stroke"/><rect x="30.22" y="43.40" width="12.50" height="12.40" rx="1.4" ry="1.4" vector-effect="non-scaling-stroke"/><rect x="44.92" y="43.40" width="12.50" height="12.40" rx="1.4" ry="1.4" vector-effect="non-scaling-stroke"/><rect x="59.62" y="43.40" width="12.50" height="12.40" rx="1.4" ry="1.4" vector-effect="non-scaling-stroke"/><rect x="74.33" y="43.40" width="12.50" height="12.40" rx="1.4" ry="1.4" vector-effect="non-scaling-stroke"/><rect x="89.03" y="43.40" width="12.50" height="12.40" rx="1.4" ry="1.4" vector-effect="non-scaling-stroke"/><rect x="103.73" y="43.40" width="12.50" height="12.40" rx="1.4" ry="1.4" vector-effect="non-scaling-stroke"/><rect x="118.43" y="43.40" width="12.50" height="12.40" rx="1.4" ry="1.4" vector-effect="non-scaling-stroke"/><rect x="133.12" y="43.40" width="12.50" height="12.40" rx="1.4" ry="1.4" vector-effect="non-scaling-stroke"/><rect x="147.82" y="43.40" width="12.50" height="12.40" rx="1.4" ry="1.4" vector-effect="non-scaling-stroke"/><rect x="162.52" y="43.40" width="12.50" height="12.40" rx="1.4" ry="1.4" vector-effect="non-scaling-stroke"/><rect x="177.22" y="43.40" width="30.88" height="12.40" rx="1.4" ry="1.4" vector-effect="non-scaling-stroke"/><rect x="4.50" y="57.60" width="16.18" height="12.30" rx="1.4" ry="1.4" vector-effect="non-scaling-stroke"/><rect x="22.88" y="57.60" width="12.50" height="12.30" rx="1.4" ry="1.4" vector-effect="non-scaling-stroke"/><rect x="37.58" y="57.60" width="12.50" height="12.30" rx="1.4" ry="1.4" vector-effect="non-scaling-stroke"/><rect x="52.28" y="57.60" width="12.50" height="12.30" rx="1.4" ry="1.4" vector-effect="non-scaling-stroke"/><rect x="66.98" y="57.60" width="12.50" height="12.30" rx="1.4" ry="1.4" vector-effect="non-scaling-stroke"/><rect x="81.68" y="57.60" width="12.50" height="12.30" rx="1.4" ry="1.4" vector-effect="non-scaling-stroke"/><rect x="96.38" y="57.60" width="12.50" height="12.30" rx="1.4" ry="1.4" vector-effect="non-scaling-stroke"/><rect x="111.08" y="57.60" width="12.50" height="12.30" rx="1.4" ry="1.4" vector-effect="non-scaling-stroke"/><rect x="125.78" y="57.60" width="12.50" height="12.30" rx="1.4" ry="1.4" vector-effect="non-scaling-stroke"/><rect x="140.48" y="57.60" width="12.50" height="12.30" rx="1.4" ry="1.4" vector-effect="non-scaling-stroke"/><rect x="155.18" y="57.60" width="12.50" height="12.30" rx="1.4" ry="1.4" vector-effect="non-scaling-stroke"/><rect x="169.88" y="57.60" width="12.50" height="12.30" rx="1.4" ry="1.4" vector-effect="non-scaling-stroke"/><rect x="184.57" y="57.60" width="23.53" height="12.30" rx="1.4" ry="1.4" vector-effect="non-scaling-stroke"/><rect x="4.50" y="71.80" width="11.50" height="13.20" rx="1.4" ry="1.4" vector-effect="non-scaling-stroke"/><rect x="18.80" y="71.80" width="11.50" height="13.20" rx="1.4" ry="1.4" vector-effect="non-scaling-stroke"/><rect x="32.80" y="71.80" width="11.60" height="13.20" rx="1.4" ry="1.4" vector-effect="non-scaling-stroke"/><rect x="46.50" y="71.80" width="16.00" height="13.20" rx="1.4" ry="1.4" vector-effect="non-scaling-stroke"/><rect x="65.00" y="71.80" width="67.00" height="13.20" rx="1.4" ry="1.4" vector-effect="non-scaling-stroke"/><rect x="134.60" y="71.80" width="16.00" height="13.20" rx="1.4" ry="1.4" vector-effect="non-scaling-stroke"/><rect x="153.00" y="71.80" width="12.40" height="13.20" rx="1.4" ry="1.4" vector-effect="non-scaling-stroke"/><rect x="167.00" y="79.20" width="13.00" height="5.80" rx="1.4" ry="1.4" vector-effect="non-scaling-stroke"/><rect x="182.00" y="79.20" width="12.50" height="5.80" rx="1.4" ry="1.4" vector-effect="non-scaling-stroke"/><rect x="196.50" y="79.20" width="12.50" height="5.80" rx="1.4" ry="1.4" vector-effect="non-scaling-stroke"/><rect x="182.00" y="72.30" width="12.50" height="5.70" rx="1.4" ry="1.4" vector-effect="non-scaling-stroke"/></g>
<path d="M408.60,92.40 C409.33,89.77 411.05,85.22 414.40,80.90 C417.75,76.58 423.92,70.33 428.70,66.50 C433.48,62.67 437.83,59.93 443.10,57.90 C448.37,55.87 455.05,54.18 460.30,54.30 C465.55,54.42 470.90,56.32 474.60,58.60 C478.30,60.88 480.93,65.12 482.50,68.00 C484.07,70.88 484.35,72.80 484.00,75.90 C483.65,79.00 483.15,83.38 480.40,86.60 C477.65,89.82 472.53,92.33 467.50,95.20 C462.47,98.07 456.18,101.88 450.20,103.80 C444.22,105.72 437.10,106.82 431.60,106.70 C426.10,106.58 420.80,104.77 417.20,103.10 C413.60,101.43 411.43,98.48 410.00,96.70 C408.57,94.92 407.87,95.03 408.60,92.40 Z" fill="#fff" stroke="#8e8e8e" stroke-width="0.95"/>
<path d="M410.00,93.80 C411.92,94.88 417.43,99.35 421.50,100.30 C425.57,101.25 430.08,101.30 434.40,99.50 C438.72,97.70 442.60,92.60 447.40,89.50 C452.20,86.40 457.23,83.53 463.20,80.90 C469.17,78.27 479.87,74.90 483.20,73.70" fill="none" stroke="#8e8e8e" stroke-width="0.9"/>
<path d="M430.1,78 L444.5,67.2" fill="none" stroke="#8e8e8e" stroke-width="0.9"/>
<path d="M419.4,80.2 L425.8,75.9 Q428.5,76 430.1,78.7 L423,85.9 Q420.5,84 419.4,80.2 Z" fill="#fff" stroke="#8e8e8e" stroke-width="0.9"/>
</svg>
</body></html>
